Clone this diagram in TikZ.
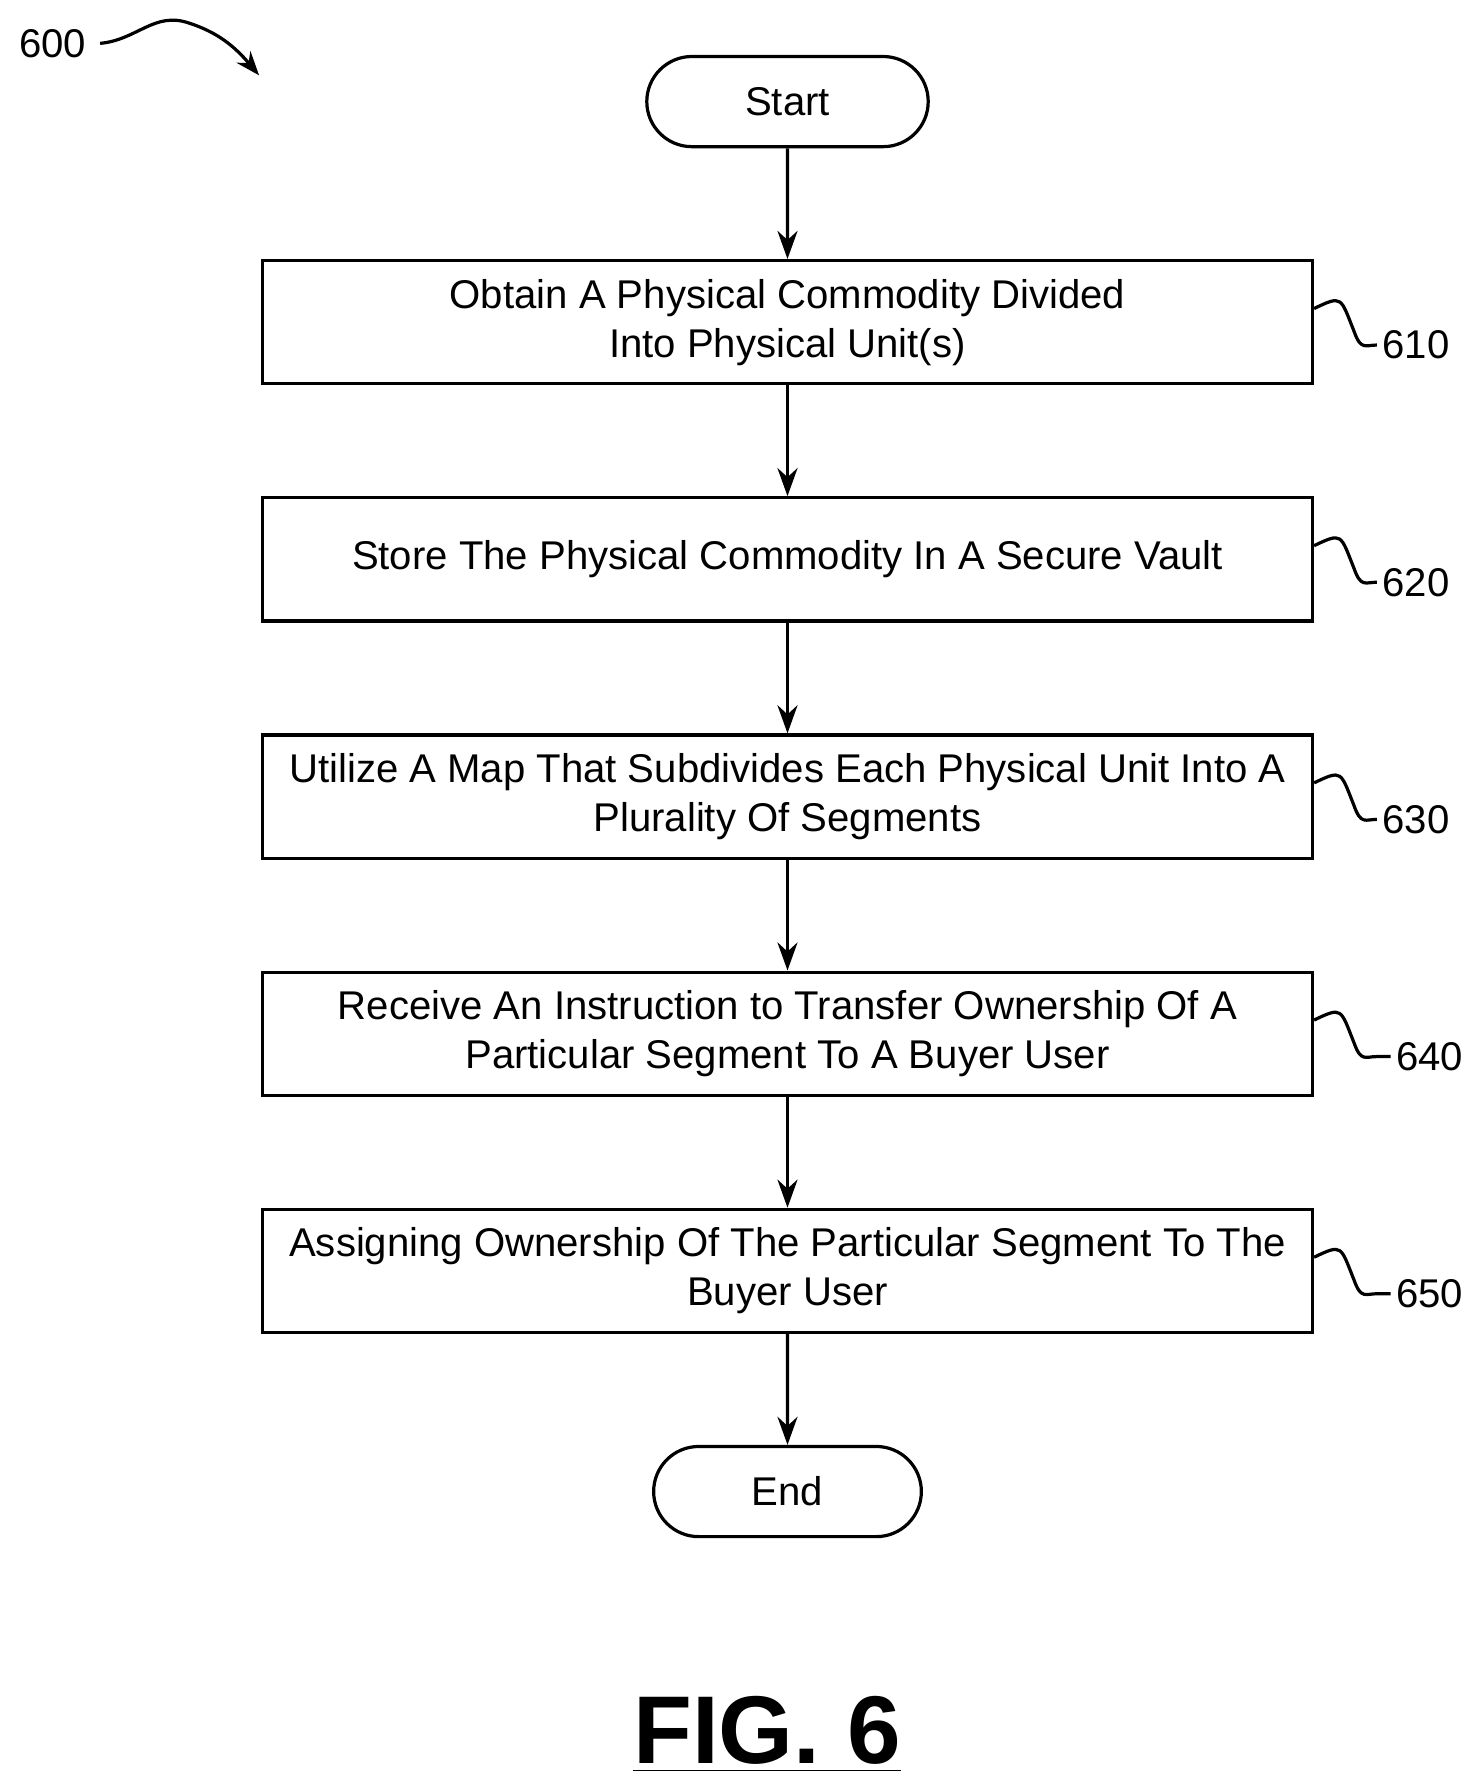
\documentclass[tikz,border=0pt]{standalone}
\usepackage{fontspec}
\setmainfont{Liberation Sans}
\usetikzlibrary{positioning,shapes.misc,arrows.meta}

\tikzstyle{procbox} = [draw, rectangle, thick, minimum width=9.2cm, minimum height=1.08cm, align=center, inner sep=1pt]
\tikzstyle{term} = [draw, rounded rectangle, thick, minimum height=0.79cm]
\tikzstyle{flow} = [thick, -{Stealth[length=7pt,width=5pt]}]

\newcommand{\squig}[3]{%
  \draw[thick] (#1.east) ++(0,0.12) .. controls ++(0.25,0.12) and ++(-0.12,0.3) .. ++(0.35,-0.2)
    .. controls ++(0.06,-0.17) and ++(-0.1,0) .. ++(0.2,-0.12) -- ++(#3,0) node[anchor=west,inner sep=1pt] {#2};}

\begin{document}
\begin{tikzpicture}[auto, node distance=0.97cm, font=\fontsize{10}{12.2}\selectfont]
  \useasboundingbox (0,0) rectangle (13,-15.64);
  \node [term, minimum width=2.7cm] (start) at (6.9,-0.89) {Start};
  \node [procbox, below=of start] (b610) {Obtain A Physical Commodity Divided\\Into Physical Unit(s)};
  \node [procbox, below=of b610] (b620) {Store The Physical Commodity In A Secure Vault};
  \node [procbox, below=of b620] (b630) {Utilize A Map That Subdivides Each Physical Unit Into A\\Plurality Of Segments};
  \node [procbox, below=of b630] (b640) {Receive An Instruction to Transfer Ownership Of A\\Particular Segment To A Buyer User};
  \node [procbox, below=of b640] (b650) {Assigning Ownership Of The Particular Segment To The\\Buyer User};
  \node [term, minimum width=2.58cm, below=of b650] (end) {End};

  \draw [flow] (start) -- (b610);
  \draw [flow] (b610) -- (b620);
  \draw [flow] (b620) -- (b630);
  \draw [flow] (b630) -- (b640);
  \draw [flow] (b640) -- (b650);
  \draw [flow] (b650) -- (end);

  \squig{b610}{610}{0}
  \squig{b620}{620}{0}
  \squig{b630}{630}{0}
  \squig{b640}{640}{0.12}
  \squig{b650}{650}{0.12}

  % figure number
  \node (fig) at (0.46,-0.38) {600};
  \coordinate (figtip) at (2.27,-0.66);
  \draw [thick, -{Stealth[length=6pt,width=4.5pt]}] (fig.east) .. controls (1.2,-0.35) and (1.35,-0.1) .. (1.65,-0.2) .. controls (1.9,-0.28) and (2.05,-0.4) .. (figtip);
  \node (title) at (6.72,-15.2) {\fontsize{24}{28}\selectfont\bfseries\underline{FIG. 6}};
\end{tikzpicture}
\end{document}
